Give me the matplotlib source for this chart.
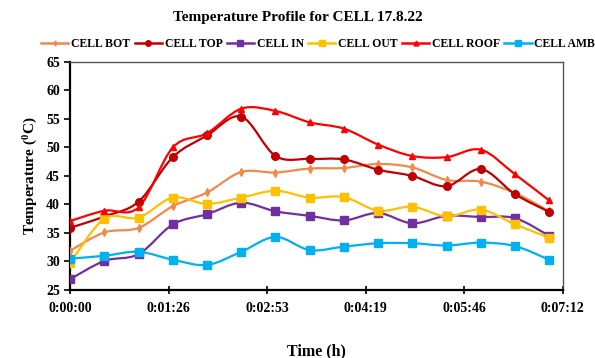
import numpy as np
import matplotlib.pyplot as plt
from matplotlib.path import Path
from matplotlib.patches import PathPatch

plt.rcParams['font.family'] = 'Liberation Serif'
plt.rcParams['font.weight'] = 'bold'
plt.rcParams['mathtext.fontset'] = 'custom'
plt.rcParams['mathtext.rm'] = 'Liberation Serif'
plt.rcParams['mathtext.bf'] = 'Liberation Serif:bold'

# time in seconds
t = [0, 30, 60, 90, 120, 150, 180, 210, 240, 270, 300, 330, 360, 390, 420]

cell_bot = [31.9, 35.1, 35.9, 39.7, 42.1, 45.7, 45.6, 46.3, 46.4, 47.1, 46.5, 44.3, 44.0, 42.0, 38.8]
cell_top = [35.9, 37.9, 40.5, 48.3, 52.1, 55.4, 48.5, 48.0, 47.9, 46.1, 45.0, 43.2, 46.2, 41.8, 38.7]
cell_in = [26.9, 30.1, 31.3, 36.5, 38.3, 40.3, 38.8, 38.0, 37.2, 38.5, 36.7, 38.0, 37.8, 37.6, 34.5]
cell_out = [29.8, 37.5, 37.7, 41.2, 40.1, 41.2, 42.4, 41.2, 41.3, 38.9, 39.6, 37.9, 39.1, 36.5, 34.2]
cell_roof = [37.1, 38.9, 39.5, 50.0, 52.5, 56.8, 56.4, 54.4, 53.3, 50.5, 48.5, 48.3, 49.6, 45.3, 40.7]
cell_amb = [30.5, 31.0, 31.7, 30.3, 29.4, 31.7, 34.3, 32.0, 32.6, 33.2, 33.2, 32.8, 33.3, 32.7, 30.3]

xticks = [0, 86.4, 172.8, 259.2, 345.6, 432]
xticklabels = ['0:00:00', '0:01:26', '0:02:53', '0:04:19', '0:05:46', '0:07:12']

series = [
    ('CELL BOT', cell_bot, '#F08A4B', 'd', 4),
    ('CELL TOP', cell_top, '#C00000', 'o', 5.5),
    ('CELL IN', cell_in, '#7030A0', 's', 5.5),
    ('CELL OUT', cell_out, '#FFC000', 's', 5.5),
    ('CELL ROOF', cell_roof, '#FF0000', '^', 5),
    ('CELL AMB', cell_amb, '#00B0F0', 's', 5.5),
]


def smooth_path(x, y, k=1 / 6):
    # bezier through the points, like a spreadsheet "smoothed line"
    x = np.asarray(x, float)
    y = np.asarray(y, float)
    verts = [(x[0], y[0])]
    codes = [Path.MOVETO]
    n = len(x)
    for i in range(n - 1):
        x0, y0 = (x[i - 1], y[i - 1]) if i > 0 else (x[i], y[i])
        x3, y3 = (x[i + 2], y[i + 2]) if i + 2 < n else (x[i + 1], y[i + 1])
        c1 = (x[i] + (x[i + 1] - x0) * k, y[i] + (y[i + 1] - y0) * k)
        c2 = (x[i + 1] - (x3 - x[i]) * k, y[i + 1] - (y3 - y[i]) * k)
        verts += [c1, c2, (x[i + 1], y[i + 1])]
        codes += [Path.CURVE4] * 3
    return Path(verts, codes)


fig, ax = plt.subplots(figsize=(5.95, 3.58), dpi=100)
fig.subplots_adjust(left=0.118, right=0.946, top=0.827, bottom=0.19)

for name, vals, col, mk, ms in series:
    ax.add_patch(PathPatch(smooth_path(t, vals), fill=False, edgecolor=col, lw=1.6, zorder=2))
    ax.plot(t, vals, linestyle='none', marker=mk, color=col, markersize=ms, zorder=3)
    ax.plot([], [], color=col, lw=1.8, marker=mk, markersize=ms - 1.5, label=name)

ax.set_xlim(0, 432)
ax.set_ylim(25, 65)
ax.set_xticks(xticks)
ax.set_xticklabels(xticklabels)
ax.set_yticks(range(25, 66, 5))
ax.tick_params(axis='both', labelsize=10, width=1.2)
ax.tick_params(axis='x', direction='inout', length=6, pad=6)
ax.tick_params(axis='y', direction='out', length=4)
for s in ['left', 'bottom']:
    ax.spines[s].set_linewidth(1.6)
for s in ['top', 'right']:
    ax.spines[s].set_linewidth(1.0)
    ax.spines[s].set_color('#555555')

ax.set_xlabel('Time (h)', fontsize=11.5, fontweight='bold', labelpad=20)
ax.set_ylabel(r'Temperature ($\mathbf{^0}$C)', fontsize=11, fontweight='bold')
fig.text(0.5, 0.952, 'Temperature Profile for CELL 17.8.22', ha='center', va='center',
         fontsize=11, fontweight='bold')
fig.legend(loc='center', bbox_to_anchor=(0.535, 0.877), ncol=6, frameon=False, fontsize=8.5,
           handlelength=2.3, columnspacing=0.35, handletextpad=0.25, borderaxespad=0)

fig.savefig('out.png', dpi=100)
